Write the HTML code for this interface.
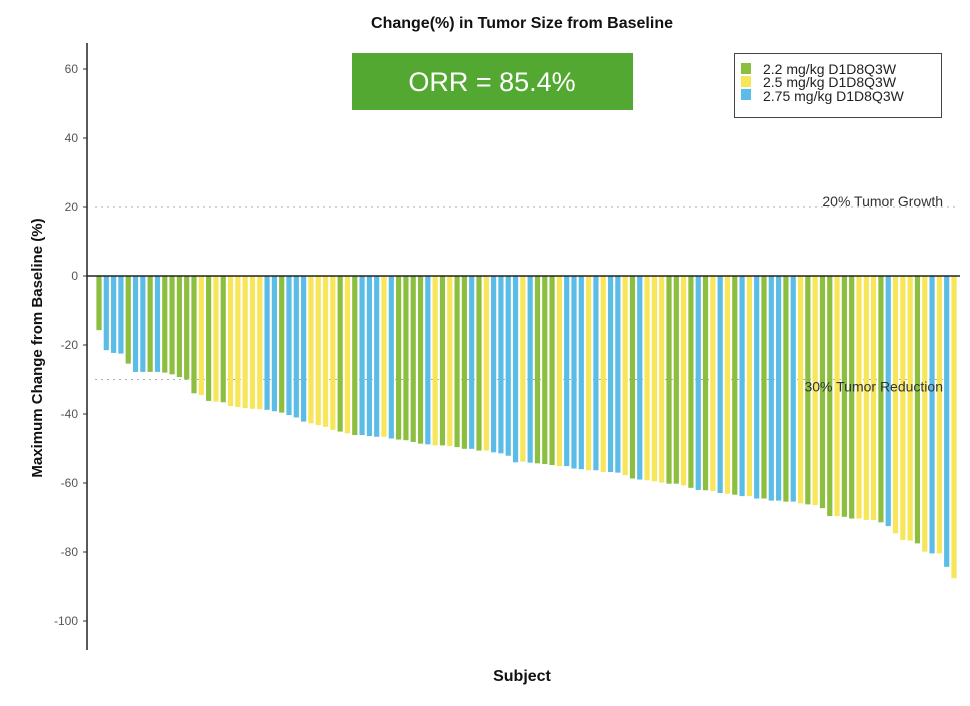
<!DOCTYPE html>
<html><head><meta charset="utf-8"><style>
body{margin:0;background:#fff;font-family:"Liberation Sans",sans-serif;}
svg{display:block}
</style></head><body>
<svg id="chart" width="970" height="706">
<text x="522" y="28" text-anchor="middle" font-size="16" font-weight="bold" fill="#111">Change(%) in Tumor Size from Baseline</text>
<text transform="translate(42,348) rotate(-90)" text-anchor="middle" font-size="15" font-weight="bold" fill="#111">Maximum Change from Baseline (%)</text>
<text x="522" y="681" text-anchor="middle" font-size="16" font-weight="bold" fill="#111">Subject</text>
<g id="yaxis"></g>
<g id="refs"></g>
<g id="bars"></g>
<line x1="87" y1="43" x2="87" y2="650" stroke="#222" stroke-width="1.5"/>
<g>
<rect x="352" y="53" width="281" height="57" fill="#52a831"/>
<text x="492" y="91" text-anchor="middle" font-size="27" fill="#fff">ORR = 85.4%</text>
</g>
<g>
<rect x="734.5" y="53.5" width="207" height="64" fill="#fff" stroke="#444" stroke-width="1"/>
<rect x="741" y="63" width="10" height="11" fill="#8cbf3f"/>
<text x="763" y="74" font-size="14" fill="#222">2.2 mg/kg D1D8Q3W</text>
<rect x="741" y="76" width="10" height="11" fill="#f7e55a"/>
<text x="763" y="87" font-size="14" fill="#222">2.5 mg/kg D1D8Q3W</text>
<rect x="741" y="89" width="10" height="11" fill="#5bbde6"/>
<text x="763" y="101" font-size="14" fill="#222">2.75 mg/kg D1D8Q3W</text>
</g>
</svg>
<script>
const yTicks=[60,40,20,0,-20,-40,-60,-80,-100];
const refValues=[20,-30];
const refLabels=["20% Tumor Growth","30% Tumor Reduction"];
const doseGroups=["G","B","B","B","G","B","B","G","B","G","G","G","G","G","Y","G","Y","G","Y","Y","Y","Y","Y","B","B","G","B","B","B",
"Y","Y","Y","Y","G","Y","G","B","B","B","Y","B","G","G","G","G","B","Y","G","Y","G","G","B","G","Y","B","B","B","B",
"Y","B","G","G","G","Y","B","B","B","Y","B","Y","B","B","Y","G","B","Y","Y","Y","G","G","Y","G","B","G","Y","B","Y","G",
"B","Y","B","G","B","B","G","B","Y","G","Y","G","G","Y","G","G","Y","Y","Y","G","B","Y","Y","Y","G","Y","B","Y","B","Y"];
const changes=[-15.7,-21.5,-22.3,-22.5,-25.4,-27.8,-27.8,-27.8,-27.8,-28,-28.5,-29.3,-30,-34,-34.5,-36.2,-36.4,-36.6,-37.7,-38,-38.3,-38.5,-38.6,-38.8,-39.2,-39.6,-40.3,-41,-42.2,
-42.7,-43.2,-43.7,-44.6,-45.1,-45.6,-46.1,-46.1,-46.4,-46.6,-46.6,-47.1,-47.4,-47.6,-48.1,-48.6,-48.8,-49.1,-49.1,-49.3,-49.6,-50.1,-50.1,-50.6,-50.6,-51.1,-51.4,-52.1,-54,
-53.8,-54.1,-54.3,-54.5,-54.8,-55.1,-55.1,-55.8,-56,-56.3,-56.3,-56.8,-56.8,-57,-57.7,-58.7,-59,-59.2,-59.5,-59.9,-60.2,-60.2,-60.7,-61.4,-62,-62.1,-62.3,-62.9,-63.1,-63.4,
-63.8,-63.8,-64.5,-64.5,-65.1,-65.1,-65.4,-65.4,-65.9,-66.2,-66.4,-67.3,-69.6,-69.6,-69.8,-70.3,-70.3,-70.7,-70.7,-71.4,-72.5,-74.6,-76.5,-76.7,-77.5,-79.9,-80.4,-80.4,-84.3,-87.6];
const colors={G:"#8cbf3f",Y:"#f7e55a",B:"#5bbde6"};
const NS="http://www.w3.org/2000/svg";
const y0=276,pxPer=3.45;
function yScale(v){return y0-v*pxPer;}
const xStart=99,xEnd=954;
function xScale(i){return xStart+i*(xEnd-xStart)/(changes.length-1);}
const ya=document.getElementById('yaxis');
yTicks.forEach(t=>{
 const tx=document.createElementNS(NS,'text');
 
 
 tx.setAttribute('x',78);tx.setAttribute('y',yScale(t)+4);
 tx.setAttribute('text-anchor','end');tx.setAttribute('font-size','12');tx.setAttribute('fill','#555');
 tx.textContent=t;ya.appendChild(tx);
 const tk=document.createElementNS(NS,'line');
 
 
 tk.setAttribute('x1',83);tk.setAttribute('x2',87);tk.setAttribute('y1',yScale(t));tk.setAttribute('y2',yScale(t));
 tk.setAttribute('stroke','#333');ya.appendChild(tk);
});
const rg=document.getElementById('refs');
refValues.forEach((v,i)=>{
 const l=document.createElementNS(NS,'line');
 
 
 l.setAttribute('x1',95);l.setAttribute('x2',958);l.setAttribute('y1',yScale(v));l.setAttribute('y2',yScale(v));
 l.setAttribute('stroke','#aaa');l.setAttribute('stroke-dasharray','2,4');rg.appendChild(l);
});
const bg=document.getElementById('bars');
changes.forEach((v,i)=>{
 const r=document.createElementNS(NS,'rect');
 
 
 const x=xScale(i);
 const top=Math.min(y0,yScale(v));
 r.setAttribute('x',x-2.6);r.setAttribute('width',5.2);
 r.setAttribute('y',top);r.setAttribute('height',Math.abs(yScale(v)-y0));
 r.setAttribute('fill',colors[doseGroups[i]]||"#ccc");bg.appendChild(r);
});
const zl=document.createElementNS(NS,'line');


zl.setAttribute('x1',87);zl.setAttribute('x2',960);zl.setAttribute('y1',y0);zl.setAttribute('y2',y0);
zl.setAttribute('stroke','#222');zl.setAttribute('stroke-width','1.5');bg.appendChild(zl);
refValues.forEach((v,i)=>{
 const t=document.createElementNS(NS,'text');
 
 
 t.setAttribute('x',943);t.setAttribute('y',yScale(v)+(v>0?-1:12));
 t.setAttribute('text-anchor','end');t.setAttribute('font-size','14');t.setAttribute('fill','#333');
 t.textContent=refLabels[i];bg.appendChild(t);
});
</script>
</body></html>
